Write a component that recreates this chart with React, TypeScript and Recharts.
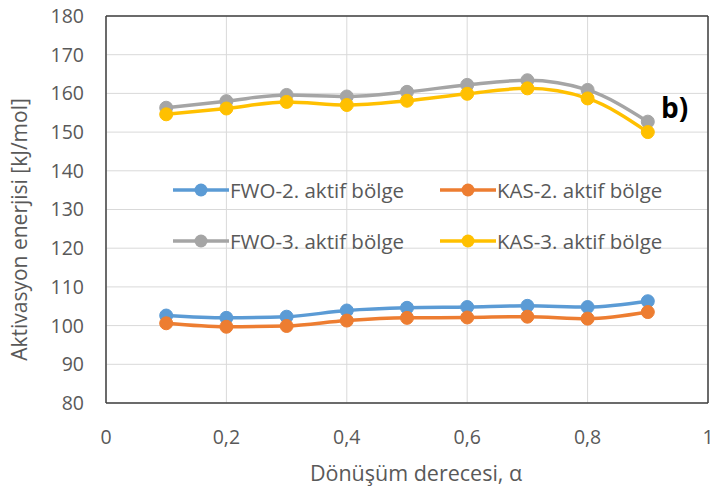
import React from 'react';
import { LineChart, Line, XAxis, YAxis, CartesianGrid, ReferenceLine } from 'recharts';

const alpha = [0.1, 0.2, 0.3, 0.4, 0.5, 0.6, 0.7, 0.8, 0.9];
const fwo2 = [102.6, 102.0, 102.3, 103.9, 104.6, 104.8, 105.1, 104.8, 106.3];
const kas2 = [100.6, 99.7, 99.9, 101.3, 102.0, 102.1, 102.3, 101.8, 103.5];
const fwo3 = [156.3, 158.0, 159.6, 159.2, 160.4, 162.2, 163.4, 160.9, 152.7];
const kas3 = [154.6, 156.1, 157.8, 157.0, 158.1, 159.9, 161.3, 158.7, 150.0];

const xTicks = [0, 0.2, 0.4, 0.6, 0.8, 1];
const yTicks = [80, 90, 100, 110, 120, 130, 140, 150, 160, 170, 180];

const seriesNames = ['FWO-2. aktif bölge', 'KAS-2. aktif bölge', 'FWO-3. aktif bölge', 'KAS-3. aktif bölge'];
const seriesKeys = ['fwo2', 'kas2', 'fwo3', 'kas3'];
const colors = ['#5B9BD5', '#ED7D31', '#A5A5A5', '#FFC000'];

const data = alpha.map((a, i) => ({ a, fwo2: fwo2[i], kas2: kas2[i], fwo3: fwo3[i], kas3: kas3[i] }));

const FONT = '"Open Sans", sans-serif';
const TXT = '#595959';

const fmt = (v: number) => String(v).replace('.', ',');

const LegendBox = () => {
  const pos = [
    { left: 0, top: 0 },
    { left: 267, top: 0 },
    { left: 0, top: 51 },
    { left: 267, top: 51 },
  ];
  return (
    <div style={{ position: 'absolute', left: 173, top: 178, width: 530, height: 80 }}>
      {seriesNames.map((n, i) => (
        <div key={n} style={{ position: 'absolute', left: pos[i].left, top: pos[i].top, height: 24, display: 'flex', alignItems: 'center' }}>
          <svg width={56} height={24}>
            <line x1={0} y1={12} x2={56} y2={12} stroke={colors[i]} strokeWidth={3.5} />
            <circle cx={28} cy={12} r={6.5} fill={colors[i]} />
          </svg>
          <span style={{ fontFamily: FONT, fontSize: 20.5, lineHeight: '24px', color: TXT, marginLeft: 1, whiteSpace: 'nowrap' }}>{n}</span>
        </div>
      ))}
    </div>
  );
};

export default function App() {
  return (
    <div style={{ position: 'relative', width: 713, height: 494, background: '#fff' }}>
      <style>{`body{margin:0}`}</style>
      <LineChart width={713} height={494} data={data} margin={{ top: 16, right: 5, left: 0, bottom: 0 }}>
        <CartesianGrid stroke="#D9D9D9" strokeWidth={1} />
        <XAxis
          dataKey="a"
          type="number"
          domain={[0, 1]}
          ticks={xTicks}
          tickFormatter={fmt}
          height={91}
          tickLine={false}
          tickSize={0}
          tickMargin={27}
          axisLine={{ stroke: '#404040', strokeWidth: 1.5 }}
          tick={{ fill: TXT, fontSize: 19.5, fontFamily: FONT }}
          label={{ value: 'Dönüşüm derecesi, α', position: 'insideBottom', offset: 13, dx: 9, fill: TXT, fontSize: 21.5, fontFamily: FONT }}
        />
        <YAxis
          type="number"
          domain={[80, 180]}
          ticks={yTicks}
          width={106}
          tickLine={false}
          tickSize={0}
          tickMargin={22}
          axisLine={{ stroke: '#404040', strokeWidth: 1.5 }}
          tick={{ fill: TXT, fontSize: 19.5, fontFamily: FONT }}
          label={{ value: 'Aktivasyon enerjisi [kJ/mol]', angle: -90, position: 'insideLeft', offset: 20, dy: 20, fill: TXT, fontSize: 21, fontFamily: FONT, style: { textAnchor: 'middle' } }}
        />
        <ReferenceLine y={180} stroke="#404040" strokeWidth={1.5} />
        <ReferenceLine x={1} stroke="#404040" strokeWidth={1.5} />
        {seriesKeys.map((k, i) => (
          <Line
            key={k}
            dataKey={k}
            name={seriesNames[i]}
            type="monotone"
            stroke={colors[i]}
            strokeWidth={3.5}
            dot={{ r: 6.5, fill: colors[i], stroke: colors[i], strokeWidth: 1 }}
            activeDot={false}
            isAnimationActive={false}
          />
        ))}
      </LineChart>
      <LegendBox />
      <div style={{ position: 'absolute', left: 661, top: 88, fontFamily: FONT, fontWeight: 700, fontSize: 28, lineHeight: 'normal', color: '#000' }}>b)</div>
    </div>
  );
}
